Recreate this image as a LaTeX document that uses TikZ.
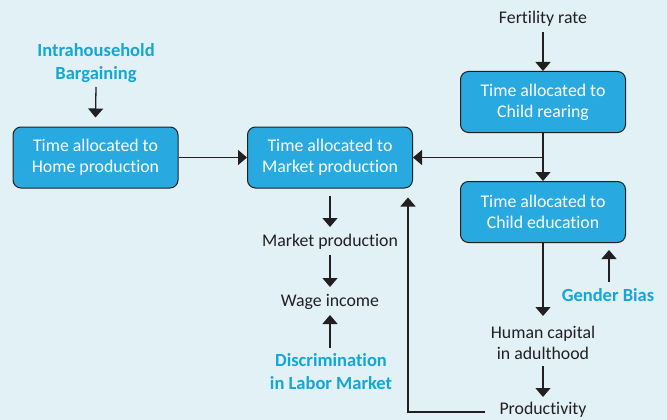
\documentclass[tikz,border=0pt]{standalone}
\usepackage{fontspec}
\setmainfont[Ligatures={NoCommon,NoContextual}]{Carlito}
\usetikzlibrary{arrows.meta,calc}
\definecolor{bgc}{HTML}{E1F1F6}
\definecolor{boxc}{HTML}{28AAE1}
\definecolor{labc}{HTML}{14A6D6}
\definecolor{linec}{HTML}{231F20}
\tikzset{
  box/.style={draw=linec, line width=1pt, fill=boxc, rounded corners=8pt, minimum width=165pt, minimum height=61pt, text=white, align=center, font=\fontsize{17.8}{21}\selectfont, inner sep=0pt},
  plain/.style={text=linec, align=center, font=\fontsize{17.8}{21}\selectfont, inner sep=0pt},
  lab/.style={text=labc, align=center, font=\bfseries\fontsize{18.5}{22.5}\selectfont, inner sep=0pt},
  arr/.style={draw=linec, line width=1.3pt, -{Triangle[width=15pt,length=9pt]}},
  ln/.style={draw=linec, line width=1.3pt}
}
\begin{document}
\begin{tikzpicture}[x=1pt,y=-1pt]
\fill[bgc] (0,0) rectangle (667,420);
\useasboundingbox (0,0) rectangle (667,420);
% boxes
\node[box] (home) at (95.5,157.5) {Time allocated to\\Home production};
\node[box] (market) at (330,157.5) {Time allocated to\\Market production};
\node[box] (rear) at (543,102) {Time allocated to\\Child rearing};
\node[box] (edu) at (543,212) {Time allocated to\\Child education};
% texts
\node[lab] (ib) at (96,63) {Intrahousehold\\Bargaining};
\node[plain] (fert) at (543,19) {Fertility rate};
\node[plain] (mp) at (330,242) {Market production};
\node[plain] (wage) at (330,302) {Wage income};
\node[lab] (discr) at (331,371.5) {Discrimination\\in Labor Market};
\node[plain] (hc) at (543,342.5) {Human capital\\in adulthood};
\node[plain] (prod) at (543,410) {Productivity};
\node[lab] (gb) at (608,295) {Gender Bias};
\coordinate (J) at (rear.south |- market.east);
% connectors
\draw[arr] ($(ib)+(0,24)$) -- ($(home.north)+(0,-9)$);
\draw[arr] (home.east) -- (market.west);
\draw[arr] ($(fert)+(0,13)$) -- (rear.north);
\draw[arr] (rear.south) -- (edu.north);
\draw[arr] (J) -- (market.east);
\draw[arr] ($(market.south)+(0,7)$) -- ($(mp)+(0,-15)$);
\draw[arr] ($(mp)+(0,13)$) -- ($(wage)+(0,-15)$);
\draw[arr] ($(discr)+(-1,-24)$) -- ($(wage)+(0,13)$);
\draw[arr] (edu.south) -- ($(hc)+(0,-26.5)$);
\draw[arr] ($(hc)+(0,23.5)$) -- ($(prod)+(0,-13)$);
\draw[arr] ($(prod)+(-58,2)$) -| ($(market.south)+(78,9)$);
\draw[arr] ($(gb)+(1,-13)$) -- ($(gb |- edu.south)+(1,7)$);
\end{tikzpicture}
\end{document}
